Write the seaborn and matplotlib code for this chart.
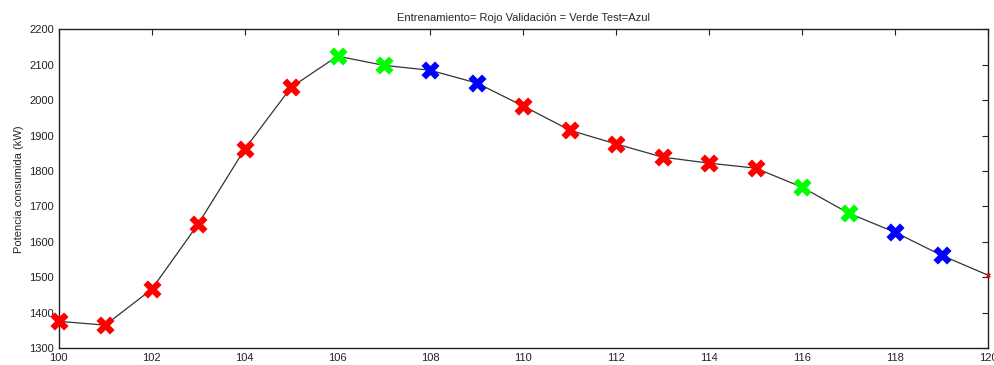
import matplotlib
matplotlib.use("Agg")
import matplotlib.pyplot as plt
import seaborn as sns
import pandas as pd

hours = list(range(100, 121))
power = [1376, 1365, 1466, 1650, 1861, 2036, 2124, 2098, 2084, 2048, 1983,
         1915, 1876, 1839, 1822, 1808, 1754, 1681, 1627, 1562, 1506]
subset = ["train"] * 6 + ["val"] * 2 + ["test"] * 2 + ["train"] * 6 + ["val"] * 2 + ["test"] * 2 + ["end"]
palette = {"train": "#ff0000", "val": "#00ff00", "test": "#0000ff", "end": "#ff0000"}
sizes = {"train": 170, "val": 170, "test": 170, "end": 12}

df = pd.DataFrame({"hour": hours, "power": power, "subset": subset})

sns.set_style("white")
plt.rcParams['font.family'] = ['Liberation Sans', 'DejaVu Sans']

fig = plt.figure(figsize=(9.95, 3.65), dpi=100)
ax = fig.add_axes([0.059, 0.046, 0.934, 0.874])

sns.lineplot(data=df, x="hour", y="power", color="#333333", linewidth=0.9, ax=ax)
for s in ["train", "val", "test", "end"]:
    d = df[df.subset == s]
    sns.scatterplot(data=d, x="hour", y="power", color=palette[s], marker="X",
                    s=sizes[s], linewidth=0, ax=ax, zorder=3, clip_on=False)

ax.set_xlim(100, 120)
ax.set_ylim(1300, 2200)
ax.set_xticks(range(100, 121, 2))
ax.set_yticks(range(1300, 2201, 100))
ax.tick_params(direction="in", top=True, right=True, length=4, labelsize=8, width=0.8,
               colors="#222222")
for sp in ax.spines.values():
    sp.set_color("#222222")
    sp.set_linewidth(1.0)
ax.set_xlabel("")
ax.set_ylabel("Potencia consumida (kW)", fontsize=8)
ax.set_title("Entrenamiento= Rojo Validación = Verde Test=Azul", fontsize=8)

fig.savefig("out.png", dpi=100)
